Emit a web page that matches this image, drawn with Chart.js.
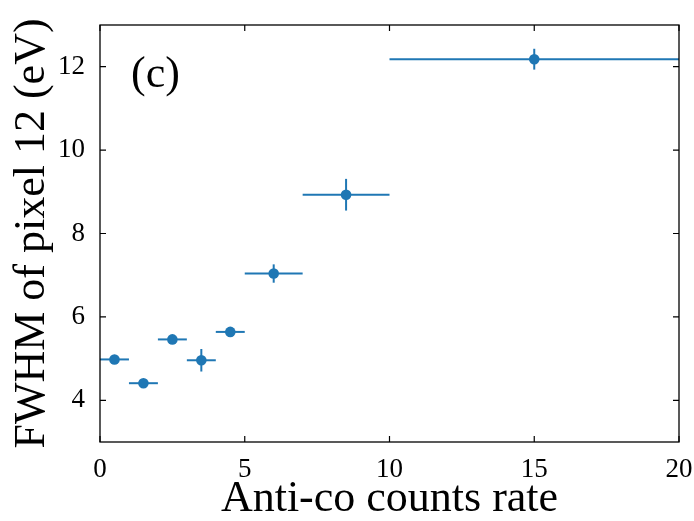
<!DOCTYPE html>
<html>
<head>
<meta charset="utf-8">
<script src="https://cdn.jsdelivr.net/npm/chart.js@4/dist/chart.umd.min.js"></script>
<style>
  html, body { margin: 0; padding: 0; background: #ffffff; }
  #wrap { width: 694px; height: 521px; }
</style>
</head>
<body>
<div id="wrap"><canvas id="c" width="694" height="521"></canvas></div>
<script>
// ---- data ----
const countRates   = [0.5, 1.5, 2.5, 3.5, 4.5, 6, 8.5, 15];
const countRateErr = [0.5, 0.5, 0.5, 0.5, 0.5, 1, 1.5, 5];
const fwhmValues   = [4.98, 4.41, 5.46, 4.96, 5.64, 7.04, 8.93, 12.18];
const fwhmErr      = [0.08, 0.07, 0.08, 0.27, 0.08, 0.22, 0.38, 0.25];
const xTickValues  = [0, 5, 10, 15, 20];
const yTickValues  = [4, 6, 8, 10, 12];
const xLabel = 'Anti-co counts rate';
const yLabel = 'FWHM of pixel 12 (eV)';
const panelTag = '(c)';

const SERIF = "'Liberation Serif', 'DejaVu Serif', serif";
const BLUE = '#1f77b4';

const points = countRates.map((x, i) => ({ x: x, y: fwhmValues[i] }));

const errorBarPlugin = {
  id: 'errorBars',
  beforeDatasetsDraw(chart) {
    const { ctx, scales: { x, y } } = chart;
    ctx.save();
    ctx.strokeStyle = BLUE;
    ctx.lineWidth = 2;
    ctx.lineCap = 'butt';
    countRates.forEach((cx, i) => {
      const cy = fwhmValues[i];
      const px0 = x.getPixelForValue(cx - countRateErr[i]);
      const px1 = x.getPixelForValue(cx + countRateErr[i]);
      const py = y.getPixelForValue(cy);
      ctx.beginPath();
      ctx.moveTo(px0, py); ctx.lineTo(px1, py);
      ctx.stroke();
      const px = x.getPixelForValue(cx);
      const py0 = y.getPixelForValue(cy - fwhmErr[i]);
      const py1 = y.getPixelForValue(cy + fwhmErr[i]);
      ctx.beginPath();
      ctx.moveTo(px, py0); ctx.lineTo(px, py1);
      ctx.stroke();
    });
    ctx.restore();
  }
};

const framePlugin = {
  id: 'frame',
  afterDraw(chart) {
    const { ctx, chartArea: a, scales: { x, y } } = chart;
    ctx.save();
    ctx.strokeStyle = '#000';
    ctx.lineWidth = 1.3;
    ctx.strokeRect(a.left, a.top, a.right - a.left, a.bottom - a.top);
    const tl = 6;
    ctx.lineWidth = 1.2;
    ctx.beginPath();
    x.ticks.forEach(t => {
      const px = x.getPixelForValue(t.value);
      ctx.moveTo(px, a.bottom); ctx.lineTo(px, a.bottom - tl);
      ctx.moveTo(px, a.top); ctx.lineTo(px, a.top + tl);
    });
    y.ticks.forEach(t => {
      const py = y.getPixelForValue(t.value);
      ctx.moveTo(a.left, py); ctx.lineTo(a.left + tl, py);
      ctx.moveTo(a.right, py); ctx.lineTo(a.right - tl, py);
    });
    ctx.stroke();
    // panel tag
    ctx.fillStyle = '#000';
    ctx.font = '44px ' + SERIF;
    ctx.textAlign = 'left';
    ctx.textBaseline = 'alphabetic';
    ctx.fillText(panelTag, a.left + 31, a.top + 62);
    ctx.restore();
  }
};

new Chart(document.getElementById('c'), {
  type: 'scatter',
  data: {
    datasets: [{
      data: points,
      backgroundColor: BLUE,
      borderColor: BLUE,
      pointRadius: 5.3,
      pointHoverRadius: 5.3,
      borderWidth: 0
    }]
  },
  options: {
    responsive: false,
    devicePixelRatio: 1,
    animation: false,
    events: [],
    layout: { padding: { top: 25, right: 15, left: 0, bottom: 0 } },
    plugins: {
      legend: { display: false },
      tooltip: { enabled: false }
    },
    scales: {
      x: {
        type: 'linear',
        min: 0, max: 20,
        afterBuildTicks(scale) { scale.ticks = xTickValues.map(v => ({ value: v })); },
        afterFit(scale) { scale.height = 79; scale.paddingLeft = 0; scale.paddingRight = 0; },
        grid: { display: false },
        border: { display: false },
        ticks: {
          color: '#000',
          font: { family: SERIF, size: 27 },
          padding: 4,
          maxRotation: 0,
          autoSkip: false
        },
        title: {
          display: true,
          text: xLabel,
          color: '#000',
          font: { family: SERIF, size: 44, lineHeight: 1.0 },
          padding: { top: 0, bottom: 0 }
        }
      },
      y: {
        type: 'linear',
        min: 3, max: 13,
        afterBuildTicks(scale) { scale.ticks = yTickValues.map(v => ({ value: v })); },
        afterFit(scale) { scale.width = 100; scale.paddingTop = 0; scale.paddingBottom = 0; },
        grid: { display: false },
        border: { display: false },
        ticks: {
          color: '#000',
          font: { family: SERIF, size: 27 },
          padding: 7,
          autoSkip: false
        },
        title: {
          display: true,
          text: yLabel,
          color: '#000',
          font: { family: SERIF, size: 44, lineHeight: 1.0 },
          padding: { top: 10, bottom: 0 }
        }
      }
    }
  },
  plugins: [errorBarPlugin, framePlugin]
});
</script>
</body>
</html>
